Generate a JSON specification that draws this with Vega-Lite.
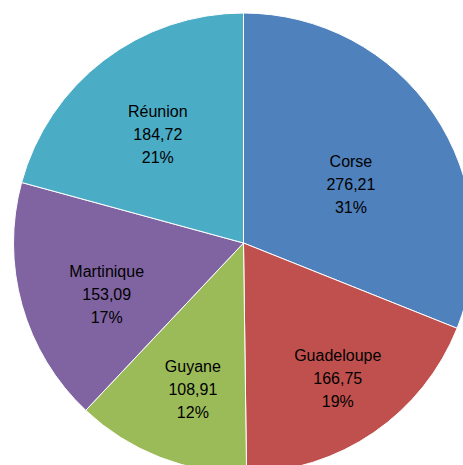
{
  "$schema": "https://vega.github.io/schema/vega-lite/v6.json",
  "width": 487,
  "height": 486,
  "padding": 0,
  "background": "white",
  "config": {"view": {"stroke": null}, "text": {"font": "Liberation Sans", "fontSize": 16, "lineHeight": 23, "lineBreak": "\n", "color": "#000000", "align": "center", "baseline": "middle"}},
  "data": {"values": [
    {"name": "Corse", "value": 276.21, "ordre": 1},
    {"name": "Guadeloupe", "value": 166.75, "ordre": 2},
    {"name": "Guyane", "value": 108.91, "ordre": 3},
    {"name": "Martinique", "value": 153.09, "ordre": 4},
    {"name": "Réunion", "value": 184.72, "ordre": 5}
  ]},
  "transform": [
    {"joinaggregate": [{"op": "sum", "field": "value", "as": "total"}]},
    {"window": [{"op": "sum", "field": "value", "as": "cum"}], "sort": [{"field": "ordre"}], "frame": [null, 0]},
    {"calculate": "datum.cum - datum.value / 2", "as": "mid"},
    {"calculate": "datum.name + '\\n' + replace(format(datum.value, '.2f'), '.', ',') + '\\n' + format(datum.value / datum.total, '.0%')", "as": "label"}
  ],
  "layer": [
    {
      "mark": {"type": "arc", "radius": 230, "stroke": "white", "strokeWidth": 1},
      "encoding": {
        "theta": {"field": "value", "type": "quantitative", "stack": true},
        "order": {"field": "ordre", "type": "quantitative"},
        "color": {"field": "name", "type": "nominal", "legend": null,
          "scale": {"domain": ["Corse", "Guadeloupe", "Guyane", "Martinique", "Réunion"],
                    "range": ["#4F81BD", "#C0504D", "#9BBB59", "#8064A2", "#4BACC6"]}}
      }
    },
    {
      "transform": [{"filter": "datum.name === 'Corse'"}],
      "mark": {"type": "text", "radius": 134.6, "dx": -4, "dy": -6},
      "encoding": {"theta": {"field": "mid", "type": "quantitative", "stack": null}, "text": {"field": "label", "type": "nominal"}}
    },
    {
      "transform": [{"filter": "datum.name === 'Guadeloupe'"}],
      "mark": {"type": "text", "radius": 147, "dx": 11, "dy": -8},
      "encoding": {"theta": {"field": "mid", "type": "quantitative", "stack": null}, "text": {"field": "label", "type": "nominal"}}
    },
    {
      "transform": [{"filter": "datum.name === 'Guyane'"}],
      "mark": {"type": "text", "radius": 134, "dx": -2, "dy": -1},
      "encoding": {"theta": {"field": "mid", "type": "quantitative", "stack": null}, "text": {"field": "label", "type": "nominal"}}
    },
    {
      "transform": [{"filter": "datum.name === 'Martinique'"}],
      "mark": {"type": "text", "radius": 139, "dx": -3, "dy": -9},
      "encoding": {"theta": {"field": "mid", "type": "quantitative", "stack": null}, "text": {"field": "label", "type": "nominal"}}
    },
    {
      "transform": [{"filter": "datum.name === 'Réunion'"}],
      "mark": {"type": "text", "radius": 156, "dx": 9, "dy": -7},
      "encoding": {"theta": {"field": "mid", "type": "quantitative", "stack": null}, "text": {"field": "label", "type": "nominal"}}
    }
  ]
}
